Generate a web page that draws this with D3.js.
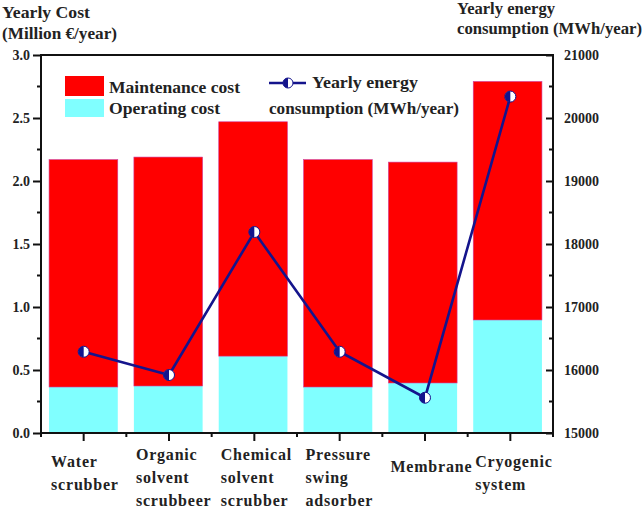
<!DOCTYPE html>
<html><head><meta charset="utf-8">
<script src="https://cdn.jsdelivr.net/npm/d3@7"></script>
<style>body{margin:0;background:#fff}svg{display:block}text{font-family:"Liberation Serif","Times New Roman",serif;font-weight:bold;fill:#222}</style>
</head><body><svg id="c" width="644" height="509"></svg>
<script>
const categories = ["Water scrubber","Organic solvent scrubbeer","Chemical solvent scrubber","Pressure swing adsorber","Membrane","Cryogenic system"];
const categoryLines = [["Water","scrubber"],["Organic","solvent","scrubbeer"],["Chemical","solvent","scrubber"],["Pressure","swing","adsorber"],["Membrane"],["Cryogenic","system"]];
const operatingCost = [0.365,0.373,0.61,0.365,0.397,0.897];
const maintenanceCost = [1.805,1.817,1.86,1.805,1.753,1.893];
const energy = [16290,15920,18190,16290,15560,20340];
const leftTicks = [0,0.5,1.0,1.5,2.0,2.5,3.0];
const rightTicks = [15000,16000,17000,18000,19000,20000,21000];

const svg = d3.select("#c");
const L=41,R=553,T=55,B=433;
const navy="#14148c";
const x = d3.scaleBand().domain(categories).range([L,550]).paddingInner(0.19).paddingOuter(0.095);
const xt = d3.scaleBand().domain(categories).range([L,R]);
const y = d3.scaleLinear().domain([0,3]).range([B,T]);
const y2 = d3.scaleLinear().domain([15000,21000]).range([B,T]);

const data = categories.map((c,i)=>({c,op:operatingCost[i],mt:maintenanceCost[i],e:energy[i]}));
// bars
svg.append("g").selectAll("rect").data(data).join("rect")
  .attr("x",d=>x(d.c)).attr("width",x.bandwidth())
  .attr("y",d=>y(d.op)).attr("height",d=>B-y(d.op)).attr("fill","#80ffff");
svg.append("g").selectAll("rect").data(data).join("rect")
  .attr("x",d=>x(d.c)).attr("width",x.bandwidth())
  .attr("y",d=>y(d.op+d.mt)).attr("height",d=>y(d.op)-y(d.op+d.mt)).attr("fill","#ff0000")
  .attr("stroke","#d040a0").attr("stroke-width",0.6);

// axes
const axL = d3.axisLeft(y).tickValues(leftTicks).tickFormat(d3.format(".1f")).tickSize(8).tickPadding(3);
const gL = svg.append("g").attr("transform",`translate(${L},0)`).call(axL);
const axR = d3.axisRight(y2).tickValues(rightTicks).tickFormat(d=>d).tickSize(-7).tickPadding(11);
const gR = svg.append("g").attr("transform",`translate(${R},0)`).call(axR);
[gL,gR].forEach(g=>{g.select(".domain").remove();g.selectAll("line").attr("stroke","#111").attr("stroke-width",2);
  g.selectAll("text").attr("font-size",14).attr("fill","#222").style("font-family","Liberation Serif").style("font-weight","bold");});
// minor ticks
const minorL = d3.range(0.25,3,0.5);
svg.append("g").selectAll("line").data(minorL).join("line").attr("x1",L-4).attr("x2",L).attr("y1",d=>y(d)).attr("y2",d=>y(d)).attr("stroke","#111").attr("stroke-width",2);
const minorR = d3.range(15500,21000,1000);
svg.append("g").selectAll("line").data(minorR).join("line").attr("x1",R-4).attr("x2",R).attr("y1",d=>y2(d)).attr("y2",d=>y2(d)).attr("stroke","#111").attr("stroke-width",2);
// bottom ticks
const step = xt.step();
svg.append("g").selectAll("line").data(categories).join("line")
  .attr("x1",d=>xt(d)+xt.bandwidth()/2).attr("x2",d=>xt(d)+xt.bandwidth()/2).attr("y1",B).attr("y2",B+8).attr("stroke","#111").attr("stroke-width",2);
svg.append("g").selectAll("line").data(d3.range(categories.length+1)).join("line")
  .attr("x1",i=>L+i*step).attr("x2",i=>L+i*step).attr("y1",B).attr("y2",B+4).attr("stroke","#111").attr("stroke-width",2);
// frame
svg.append("rect").attr("x",L).attr("y",T).attr("width",R-L).attr("height",B-T).attr("fill","none").attr("stroke","#111").attr("stroke-width",2);

// line
const cx = d=>xt(d.c)+xt.bandwidth()/2;
svg.append("path").datum(data).attr("d",d3.line().x(cx).y(d=>y2(d.e))).attr("fill","none").attr("stroke",navy).attr("stroke-width",2.6);
function marker(g,px,py,r){
  g.append("circle").attr("cx",px).attr("cy",py).attr("r",r).attr("fill","#fff").attr("stroke",navy).attr("stroke-width",1);
  g.append("path").attr("d",`M${px},${py-r}A${r},${r} 0 0 0 ${px},${py+r}Z`).attr("fill",navy);
}
const mg = svg.append("g");
data.forEach(d=>marker(mg,cx(d),y2(d.e),5.5));

// category labels
const lg = svg.append("g");
data.forEach((d,i)=>{
  const lines = categoryLines[i];
  const t = lg.append("text").attr("font-size",16).style("letter-spacing","0.8px");
  const n = lines.length;
  const y0 = n===1?472:(n===2?467:460);
  lines.forEach((s,j)=>t.append("tspan").attr("x",x(d.c)+2).attr("y",y0+j*23).text(s));
});

// axis titles
svg.append("text").attr("x",2).attr("y",18).attr("font-size",17).attr("textLength",88).attr("lengthAdjust","spacingAndGlyphs").text("Yearly Cost");
svg.append("text").attr("x",2).attr("y",39).attr("font-size",17).attr("textLength",115).attr("lengthAdjust","spacingAndGlyphs").text("(Million €/year)");
svg.append("text").attr("x",457).attr("y",14).attr("font-size",17).attr("textLength",98).attr("lengthAdjust","spacingAndGlyphs").text("Yearly energy");
svg.append("text").attr("x",457).attr("y",34).attr("font-size",17).attr("textLength",185).attr("lengthAdjust","spacingAndGlyphs").text("consumption (MWh/year)");

// legend
svg.append("rect").attr("x",65).attr("y",76).attr("width",39).attr("height",20).attr("fill","#ff0000");
svg.append("rect").attr("x",65).attr("y",99).attr("width",39).attr("height",18).attr("fill","#80ffff");
svg.append("text").attr("x",109).attr("y",93).attr("font-size",16).attr("textLength",131).attr("lengthAdjust","spacingAndGlyphs").text("Maintenance cost");
svg.append("text").attr("x",109).attr("y",114).attr("font-size",16).attr("textLength",111).attr("lengthAdjust","spacingAndGlyphs").text("Operating cost");
svg.append("line").attr("x1",269).attr("x2",306).attr("y1",83).attr("y2",83).attr("stroke",navy).attr("stroke-width",2.6);
marker(svg,288,83,5);
svg.append("text").attr("x",312).attr("y",88).attr("font-size",16).attr("textLength",106).attr("lengthAdjust","spacingAndGlyphs").text("Yearly energy");
svg.append("text").attr("x",269).attr("y",114).attr("font-size",16).attr("textLength",190).attr("lengthAdjust","spacingAndGlyphs").text("consumption (MWh/year)");
</script></body></html>
